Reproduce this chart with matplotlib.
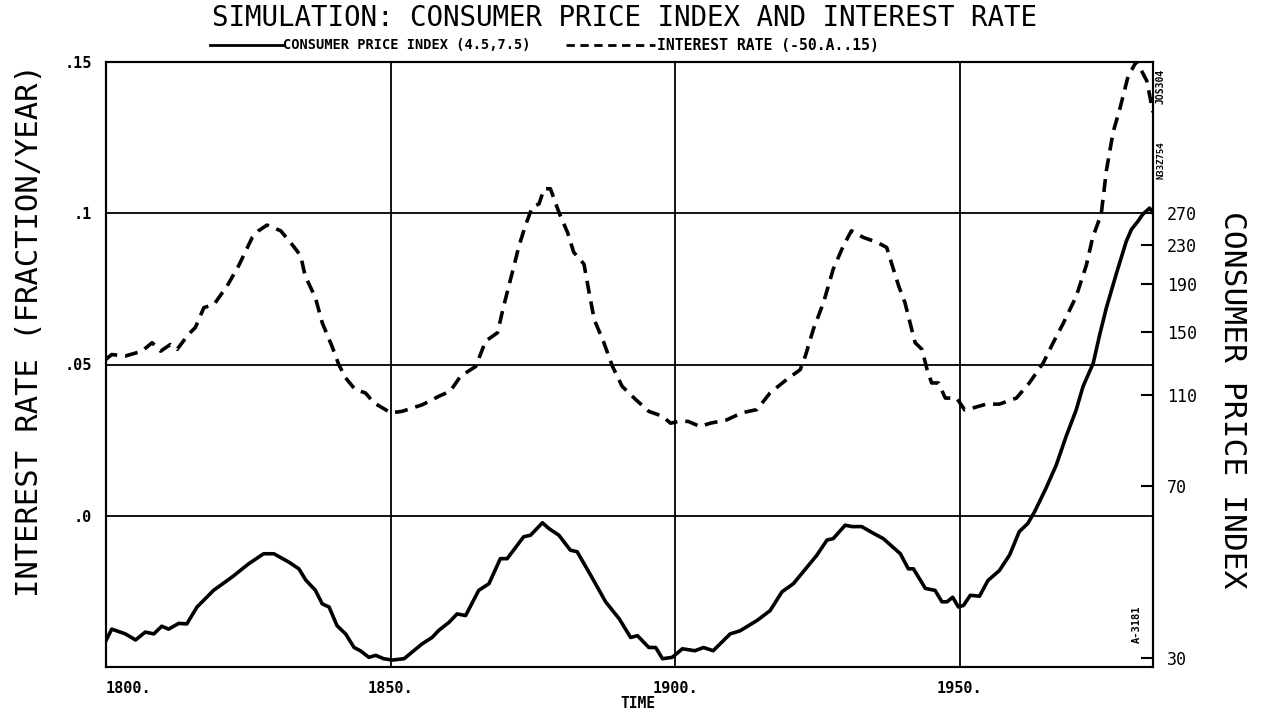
import matplotlib
matplotlib.use("Agg")
import matplotlib.pyplot as plt
from matplotlib.lines import Line2D

plt.rcParams["font.family"] = ["DejaVu Sans Mono"]

# interest rate (fraction/year)
ir_years = [1800, 1801, 1803.4, 1806.3, 1808.1, 1809.6, 1811.3, 1812.5, 1814.5, 1815.7,
            1817.2, 1819, 1821.3, 1823.3, 1825.7, 1826.8, 1828.3, 1830.7, 1832.4, 1834.2,
            1835, 1836.8, 1838, 1839.7, 1840.9, 1842.1, 1843.8, 1845.6, 1847.1, 1849.1,
            1850, 1852, 1855.6, 1858.5, 1860.5, 1862.3, 1865, 1866.7, 1868.8, 1869.9,
            1871.1, 1872.6, 1873.7, 1874.9, 1876.1, 1877, 1878.1, 1879.6, 1881.1, 1882.2,
            1884, 1884.9, 1885.8, 1887.5, 1889, 1890.7, 1893.1, 1895.4, 1897.8, 1899.2,
            1900.7, 1902.3, 1904.4, 1906.2, 1909.1, 1911.7, 1914.4, 1916.7, 1919.6, 1922,
            1922.9, 1924.3, 1926.1, 1927.8, 1929.6, 1931, 1933.1, 1935.5, 1937.2, 1938.1,
            1939.3, 1940.4, 1941.6, 1942.2, 1943.4, 1944.3, 1945.1, 1946.3, 1947.5, 1949.5,
            1950.9, 1952.3, 1954.7, 1957, 1960, 1962.3, 1964.7, 1966.4, 1968.2, 1970.5,
            1972.3, 1973.4, 1974.9, 1975.8, 1977, 1978.2, 1979.6, 1981.1, 1982.9, 1984]
interest_rate = [0.0517, 0.0533, 0.0528, 0.0544, 0.0572, 0.0544, 0.0566, 0.0550, 0.0600, 0.0622,
                 0.0688, 0.0699, 0.0760, 0.0826, 0.0920, 0.0942, 0.0961, 0.0942, 0.0904, 0.0860,
                 0.0793, 0.0721, 0.0638, 0.0561, 0.0500, 0.0456, 0.0417, 0.0406, 0.0373, 0.0351,
                 0.0340, 0.0345, 0.0367, 0.0395, 0.0412, 0.0461, 0.0494, 0.0577, 0.0605, 0.0694,
                 0.0782, 0.0893, 0.0959, 0.1020, 0.1031, 0.1081, 0.1081, 0.1003, 0.0937, 0.0871,
                 0.0832, 0.0738, 0.0649, 0.0572, 0.0494, 0.0428, 0.0384, 0.0345, 0.0329, 0.0306,
                 0.0312, 0.0312, 0.0295, 0.0306, 0.0317, 0.0340, 0.0351, 0.0406, 0.0450, 0.0483,
                 0.0528, 0.0616, 0.0705, 0.0815, 0.0893, 0.0942, 0.0920, 0.0904, 0.0887, 0.0832,
                 0.0760, 0.0705, 0.0616, 0.0572, 0.0550, 0.0483, 0.0439, 0.0439, 0.0389, 0.0389,
                 0.0350, 0.0356, 0.0369, 0.0369, 0.0389, 0.0440, 0.0505, 0.0570, 0.0635, 0.0725,
                 0.0829, 0.0920, 0.0997, 0.1140, 0.1269, 0.1347, 0.1451, 0.1503, 0.1438, 0.1334]

# consumer price index (log scale on the right)
cpi_years = [1800, 1801, 1803.4, 1805.2, 1806.9, 1808.4, 1809.8, 1811, 1812.8, 1814.2,
             1816, 1818.9, 1822.2, 1825.1, 1827.7, 1829.5, 1832.1, 1833.9, 1835.1, 1836.8,
             1838, 1839.2, 1840.6, 1842.1, 1843.6, 1844.7, 1846.2, 1847.4, 1848.8, 1850.3,
             1852.4, 1853.8, 1855.6, 1857.3, 1858.5, 1860.3, 1861.7, 1863.2, 1865.5, 1867.3,
             1869.3, 1870.5, 1873.4, 1874.6, 1876.7, 1877.8, 1879.6, 1881.6, 1882.8, 1885.2,
             1887.8, 1890.2, 1892.2, 1893.4, 1895.4, 1896.6, 1897.8, 1899.5, 1901.3, 1903.5,
             1905, 1906.7, 1909.7, 1911.4, 1914.4, 1916.7, 1918.8, 1920.8, 1923.2, 1924.9,
             1926.7, 1927.8, 1929.9, 1931.1, 1932.8, 1934.9, 1936.6, 1939.6, 1941, 1941.9,
             1944, 1945.7, 1946.9, 1947.8, 1948.8, 1949.8, 1950.7, 1951.9, 1953.5, 1955,
             1957, 1958.8, 1960.5, 1962, 1963.2, 1965.2, 1967, 1968.8, 1970.5, 1971.7,
             1973.5, 1974.6, 1975.8, 1977.6, 1979.3, 1980.2, 1981.3, 1982.2, 1983.4, 1984]
cpi = [32.7, 34.6, 33.8, 32.8, 34.1, 33.8, 35.1, 34.6, 35.6, 35.5,
       38.6, 41.9, 44.8, 47.8, 50.2, 50.2, 48.2, 46.6, 44.1, 41.9,
       39.2, 38.6, 35.2, 33.8, 31.6, 31.1, 30.1, 30.4, 29.9, 29.7,
       29.9, 30.9, 32.2, 33.2, 34.4, 35.8, 37.3, 37.0, 41.9, 43.3,
       49.0, 49.0, 54.6, 55.0, 58.5, 56.9, 55.0, 51.1, 50.7, 45.1,
       39.6, 36.4, 33.2, 33.5, 31.6, 31.6, 29.9, 30.1, 31.4, 31.1,
       31.6, 31.1, 33.8, 34.3, 36.1, 37.9, 41.6, 43.3, 47.0, 49.8,
       53.7, 54.1, 57.8, 57.4, 57.4, 55.5, 54.1, 50.2, 46.6, 46.6,
       42.3, 41.9, 39.6, 39.6, 40.5, 38.6, 38.9, 40.9, 40.7, 44.0,
       46.2, 49.9, 56.0, 58.3, 61.8, 69.4, 77.8, 90.1, 102.1, 114.6,
       128.7, 147.5, 169.0, 200.9, 234.7, 248.8, 258.7, 268.3, 276.6, 270]

x_ticks = [1800, 1850, 1900, 1950]
x_labels = ["1800.", "1850.", "1900.", "1950."]
ir_ticks = [0.15, 0.1, 0.05, 0.0]
ir_labels = [".15", ".1", ".05", ".0"]
cpi_ticks = [30, 70, 110, 150, 190, 230, 270]

W, H = 1261, 717
fig = plt.figure(figsize=(W / 100, H / 100), dpi=100)
ax = fig.add_axes([106 / W, 1 - 667 / H, (1153 - 106) / W, (667 - 62) / H])

ax.set_xlim(1800, 1984)
ax.set_ylim(-0.05, 0.15)
ax.set_xticks(x_ticks, x_labels)
ax.set_yticks(ir_ticks, ir_labels)
ax.tick_params(axis="both", length=0, labelsize=11)
ax.tick_params(axis="x", pad=10)
ax.tick_params(axis="y", pad=10)
for lab in ax.get_xticklabels() + ax.get_yticklabels():
    lab.set_fontweight("bold")
ax.get_xticklabels()[0].set_horizontalalignment("left")
ax.grid(True, color="black", linewidth=1.3)
for s in ax.spines.values():
    s.set_linewidth(1.5)

ax.plot(ir_years, interest_rate, color="black", linewidth=2.6,
        linestyle=(0, (3.6, 2.2)), zorder=3)

ax2 = ax.twinx()
ax2.set_yscale("log")
ax2.set_ylim(28.7, 569)
ax2.set_yticks(cpi_ticks, [str(t) for t in cpi_ticks])
ax2.minorticks_off()
ax2.tick_params(axis="y", direction="in", length=9, width=1.5, labelsize=12, pad=10)
for s in ax2.spines.values():
    s.set_linewidth(1.5)
ax2.plot(cpi_years, cpi, color="black", linewidth=2.6, zorder=3)

ax2.text(0.985, 0.07, "A-3181", transform=ax2.transAxes, rotation=90,
         fontsize=7.5, fontweight="bold", ha="center", va="center")

# titles and labels
fig.text(625 / W, 1 - 18 / H, "SIMULATION: CONSUMER PRICE INDEX AND INTEREST RATE",
         ha="center", va="center", fontsize=19.8)
fig.text(30 / W, 1 - 331 / H, "INTEREST RATE (FRACTION/YEAR)", rotation=90,
         ha="center", va="center", fontsize=22)
fig.text(1232 / W, 1 - 400 / H, "CONSUMER PRICE INDEX", rotation=-90,
         ha="center", va="center", fontsize=22.5)
fig.text(638 / W, 1 - 703 / H, "TIME", ha="center", va="center",
         fontsize=10.5, fontweight="bold")

# legend row above the plot
ly = 1 - 45 / H
fig.add_artist(Line2D([210 / W, 283 / W], [ly, ly], color="black", linewidth=2))
fig.text(283 / W, ly, "CONSUMER PRICE INDEX (4.5,7.5)", ha="left", va="center",
         fontsize=9.8, fontweight="bold")
fig.add_artist(Line2D([566 / W, 655 / W], [ly, ly], color="black", linewidth=2,
                      linestyle=(0, (3, 2))))
fig.text(657 / W, ly, "INTEREST RATE (-50.A..15)", ha="left", va="center",
         fontsize=10.6, fontweight="bold")

# archive stamps on the right edge
fig.text(1161 / W, 1 - 86 / H, "JOS304", rotation=90, ha="center", va="center",
         fontsize=7, fontweight="bold")
fig.text(1161 / W, 1 - 160 / H, "N33Z754", rotation=90, ha="center", va="center",
         fontsize=6.5, fontweight="bold")

fig.savefig("out.png", dpi=100)
